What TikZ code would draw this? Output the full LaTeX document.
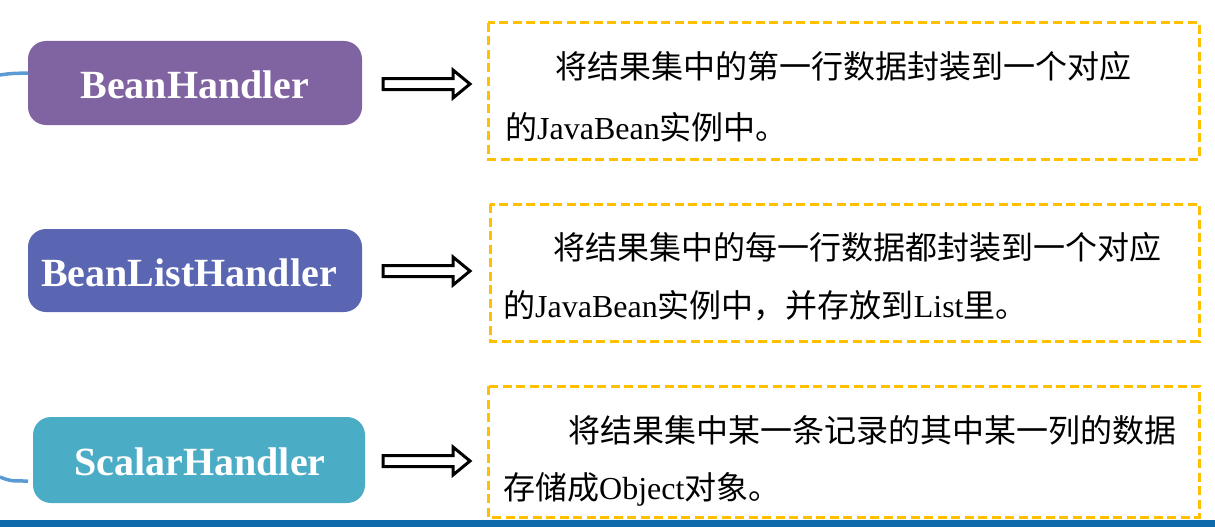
\documentclass[tikz,border=0pt]{standalone}
\usepackage{fontspec}
\setmainfont{Liberation Serif}
\newfontfamily\cjk{Noto Sans CJK SC}
\definecolor{cpurple}{HTML}{8064A2}
\definecolor{cblue}{HTML}{5A66B2}
\definecolor{cteal}{HTML}{4BACC6}
\definecolor{clink}{HTML}{5B9BD5}
\definecolor{corange}{HTML}{FFC000}
\definecolor{cbar}{HTML}{0E6AAA}
\tikzset{
  handler/.style={text=white, font=\fontsize{40}{42}\selectfont\bfseries, inner sep=0pt},
  descbox/.style={draw=corange, line width=3pt, dash pattern=on 9pt off 4.5pt},
  txt/.style={anchor=base west, inner sep=0pt, font=\fontsize{32}{36}\selectfont},
  blockarrow/.style={draw=black, line width=3pt, fill=white, line join=miter},
  link/.style={draw=clink, line width=3.5pt}
}
\begin{document}
\begin{tikzpicture}[x=1pt,y=-1pt]
\useasboundingbox (0,0) rectangle (1215,527);
% handler boxes
\fill[cpurple, rounded corners=18pt] (28,41) rectangle (362,125);
\node[handler] (h1) at (195,85) {BeanHandler};
\fill[cblue, rounded corners=18pt] (28,229) rectangle (362,312);
\node[handler] (h2) at (189,273) {BeanListHandler};
\fill[cteal, rounded corners=18pt] (33,417) rectangle (365,503);
\node[handler] (h3) at (200,462) {ScalarHandler};
\coordinate (h1w) at (28,73);
\coordinate (h3w) at (28,481);
% left links
\coordinate (l1) at (0,75);
\coordinate (l3) at (0,477);
\draw[link] (l1) .. controls (10,73.5) .. (h1w);
\draw[link] (l3) .. controls (10,481) .. (h3w);
% arrows
\foreach \y/\n in {84/a1, 271/a2, 461/a3} {
  \draw[blockarrow] (383,\y-5.5) -- (453,\y-5.5) -- (453,\y-14) -- (470,\y) -- (453,\y+14) -- (453,\y+5.5) -- (383,\y+5.5) -- cycle;
}
% description boxes
\draw[descbox] (488,23) rectangle (1199,159);
\draw[descbox] (490,204) rectangle (1199,341);
\draw[descbox] (488,386) rectangle (1199,517);
\node[draw=none, minimum width=711pt, minimum height=136pt, anchor=north west] (d1) at (488,23) {};
\node[draw=none, minimum width=709pt, minimum height=137pt, anchor=north west] (d2) at (490,204) {};
\node[draw=none, minimum width=711pt, minimum height=131pt, anchor=north west] (d3) at (488,386) {};
% texts
\node[txt] (t1a) at (555,78) {\cjk 将结果集中的第一行数据封装到一个对应};
\node[txt] (t1b) at (505,139) {{\cjk 的}JavaBean{\cjk 实例中。}};
\node[txt] (t2a) at (553,259) {\cjk 将结果集中的每一行数据都封装到一个对应};
\node[txt] (t2b) at (503,317) {{\cjk 的}JavaBean{\cjk 实例中，并存放到}List{\cjk 里。}};
\node[txt] (t3a) at (568,442) {\cjk 将结果集中某一条记录的其中某一列的数据};
\node[txt] (t3b) at (503,499) {{\cjk 存储成}Object{\cjk 对象。}};
% bottom bar
\fill[cbar] (0,520) rectangle (1215,527);
\end{tikzpicture}
\end{document}
